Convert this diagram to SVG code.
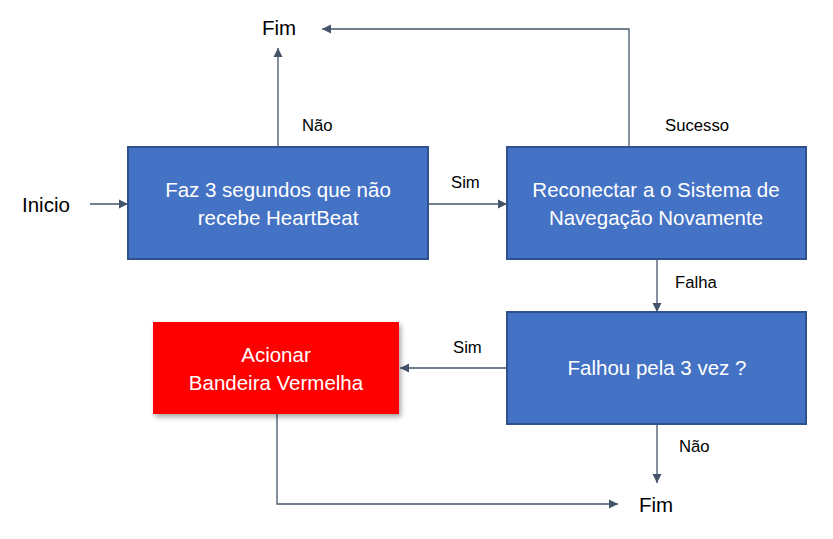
<svg xmlns="http://www.w3.org/2000/svg" width="833" height="539" viewBox="0 0 833 539">
<defs>
<marker id="arr" markerWidth="10" markerHeight="10" refX="9" refY="5" orient="auto" markerUnits="userSpaceOnUse">
<path d="M0,0.5 L9,5 L0,9.5 Z" fill="#44546A"/>
</marker>
<filter id="sh" x="-10%" y="-10%" width="130%" height="130%">
<feDropShadow dx="2" dy="3" stdDeviation="2.5" flood-color="#000" flood-opacity="0.35"/>
</filter>
<style>
.box{fill:#4472C4;stroke:#2F528F;stroke-width:2}
.red{fill:#FF0000}
.bt{font-family:"Liberation Sans",Arial,sans-serif;font-size:20.5px;fill:#FFFFFF;text-anchor:middle}
.lbl{font-family:"Liberation Sans",Arial,sans-serif;font-size:16.7px;fill:#000}
.big{font-family:"Liberation Sans",Arial,sans-serif;font-size:20.5px;fill:#000}
.c{fill:none;stroke:#44546A;stroke-width:1.3}
</style>
</defs>
<rect width="833" height="539" fill="#FFFFFF"/>
<g id="connectors">
<line class="c" x1="90" y1="204" x2="128" y2="204" marker-end="url(#arr)"/>
<line class="c" x1="278" y1="147" x2="278" y2="48" marker-end="url(#arr)"/>
<line class="c" x1="428" y1="204" x2="507" y2="204" marker-end="url(#arr)"/>
<polyline class="c" points="629,147 629,29 322,29" marker-end="url(#arr)"/>
<line class="c" x1="657" y1="259" x2="657" y2="312" marker-end="url(#arr)"/>
<line class="c" x1="507" y1="368" x2="400" y2="368" marker-end="url(#arr)"/>
<line class="c" x1="657" y1="424" x2="657" y2="483" marker-end="url(#arr)"/>
<polyline class="c" points="277,414 277,504 618,504" marker-end="url(#arr)"/>
<text class="lbl" x="302" y="131">Não</text>
<text class="lbl" x="451" y="188">Sim</text>
<text class="lbl" x="665" y="131">Sucesso</text>
<text class="lbl" x="675" y="288">Falha</text>
<text class="lbl" x="453" y="353">Sim</text>
<text class="lbl" x="679" y="452">Não</text>
</g>
<g id="inicio"><text class="big" x="22" y="212">Inicio</text></g>
<g id="fim-top"><text class="big" x="262" y="35">Fim</text></g>
<g id="fim-bottom"><text class="big" x="639" y="512">Fim</text></g>
<g id="heartbeat">
<rect class="box" x="128" y="147" width="300" height="112"/>
<text class="bt" x="278" y="197">Faz 3 segundos que não</text>
<text class="bt" x="278" y="225">recebe HeartBeat</text>
</g>
<g id="reconectar">
<rect class="box" x="507" y="147" width="299" height="112"/>
<text class="bt" x="656" y="197">Reconectar a o Sistema de</text>
<text class="bt" x="656" y="225">Navegação Novamente</text>
</g>
<g id="falhou">
<rect class="box" x="507" y="312" width="299" height="112"/>
<text class="bt" x="657" y="375">Falhou pela 3 vez ?</text>
</g>
<g id="bandeira">
<rect class="red" x="153" y="322" width="246" height="92" filter="url(#sh)"/>
<text class="bt" x="276" y="362">Acionar</text>
<text class="bt" x="276" y="390">Bandeira Vermelha</text>
</g>
</svg>
